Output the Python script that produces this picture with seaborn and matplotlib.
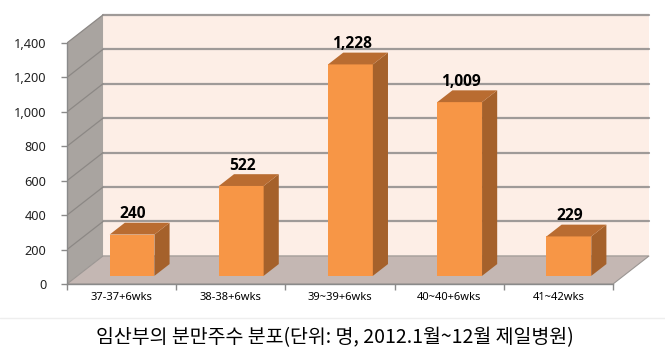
import matplotlib
matplotlib.use("Agg")
import matplotlib.pyplot as plt
from matplotlib.patches import Polygon
from matplotlib.lines import Line2D
from matplotlib.ticker import FuncFormatter, FixedLocator
import seaborn as sns
import pandas as pd

# 데이터
weeks = ['37-37+6wks', '38-38+6wks', '39~39+6wks', '40~40+6wks', '41~42wks']
counts = [240, 522, 1228, 1009, 229]
y_ticks = [0, 200, 400, 600, 800, 1000, 1200, 1400]
caption = '임산부의 분만주수 분포(단위: 명, 2012.1월~12월 제일병원)'

# 3D 느낌을 위한 깊이 설정
DX, DY = 0.33, 163      # 뒤쪽 벽까지의 이동량 (x: 범주 단위, y: 값 단위)
F1, F2 = 0.29, 0.71     # 막대 앞/뒤 면의 깊이 위치
BAR_W = 0.41

sns.set_theme(style="white")
plt.rcParams['font.family'] = ['Noto Sans', 'Noto Sans CJK KR', 'DejaVu Sans']

fig = plt.figure(figsize=(6.65, 3.61), dpi=100)
ax = fig.add_axes([67 / 665, 77 / 361, 589.7 / 665, 275.5 / 361])
ax.set_facecolor('none')

df = pd.DataFrame({'week': weeks, 'count': counts})
sns.barplot(data=df, x='week', y='count', color='#f79646', saturation=1,
            width=BAR_W, ax=ax, zorder=3, linewidth=0)

x0, x1 = -0.5, len(weeks) - 0.5
top = y_ticks[-1]

# 뒷벽, 옆벽, 바닥
ax.add_patch(Polygon([(x0 + DX, DY), (x1 + DX, DY), (x1 + DX, top + DY), (x0 + DX, top + DY)],
                     closed=True, facecolor='#fdeee6', edgecolor='none', zorder=0))
ax.add_patch(Polygon([(x0, 0), (x0 + DX, DY), (x0 + DX, top + DY), (x0, top)],
                     closed=True, facecolor='#a9a4a0', edgecolor='none', zorder=0))
ax.add_patch(Polygon([(x0, 0), (x1, 0), (x1 + DX, DY), (x0 + DX, DY)],
                     closed=True, facecolor='#c4b7b3', edgecolor='#9a9592', lw=0.8, zorder=1))
for v in y_ticks[1:]:
    ax.plot([x0 + DX, x1 + DX], [v + DY, v + DY], color='#9f9a98', lw=1.6, zorder=0.5)
    ax.plot([x0, x0 + DX], [v, v + DY], color='#8c8885', lw=0.9, zorder=0.5)

# 막대 옆면과 윗면
dd = (F2 - F1) * DX
for p, v in zip(ax.patches[:len(counts)], counts):
    p.set_x(p.get_x() + F1 * DX)
    p.set_y(F1 * DY)
    bx0 = p.get_x()
    bx1 = bx0 + p.get_width()
    b0 = F1 * DY
    t0 = v + F1 * DY
    t1 = v + F2 * DY
    ax.add_patch(Polygon([(bx1, b0), (bx1 + dd, b0 + (F2 - F1) * DY), (bx1 + dd, t1), (bx1, t0)],
                         closed=True, facecolor='#a5612b', edgecolor='none', zorder=3))
    ax.add_patch(Polygon([(bx0, t0), (bx1, t0), (bx1 + dd, t1), (bx0 + dd, t1)],
                         closed=True, facecolor='#b96c31', edgecolor='none', zorder=3))
    ax.text(bx0 + p.get_width() / 2 + 0.01, t1 + 4, f'{v:,}', ha='center', va='bottom',
            fontsize=11.2, fontweight='bold', family=['Open Sans', 'DejaVu Sans'],
            color='black', zorder=4)

ax.set_xlim(x0, 4.9)
ax.set_ylim(0, 1600)
ax.set_xlabel('')
ax.set_ylabel('')

ax.yaxis.set_major_locator(FixedLocator(y_ticks))
ax.yaxis.set_major_formatter(FuncFormatter(lambda v, _: f'{v:,.0f}'))
ax.xaxis.set_minor_locator(FixedLocator([x0 + i for i in range(len(weeks) + 1)]))

for s in ['top', 'right']:
    ax.spines[s].set_visible(False)
ax.spines['left'].set_bounds(0, top)
ax.spines['bottom'].set_bounds(x0, x1)
for s in ['left', 'bottom']:
    ax.spines[s].set_color('#8a8a8a')
    ax.spines[s].set_linewidth(1.0)

ax.tick_params(axis='y', which='major', length=4, width=1, color='#8a8a8a', pad=11,
               labelsize=9.2, labelcolor='#222222', left=True)
ax.tick_params(axis='x', which='major', length=0, pad=6, labelsize=8, labelcolor='black')
ax.tick_params(axis='x', which='minor', length=4, width=1, color='#8a8a8a', bottom=True)

# 아래쪽 흐린 경계선과 제목
fig.add_artist(Line2D([0, 1], [(361 - 318) / 361] * 2, transform=fig.transFigure,
                      color='#eeeeee', lw=1))
fig.text(335 / 665, (361 - 338) / 361, caption, ha='center', va='center',
         fontsize=14, family=['Noto Sans CJK KR', 'DejaVu Sans'], color='black')

fig.savefig('out.png', dpi=100)
